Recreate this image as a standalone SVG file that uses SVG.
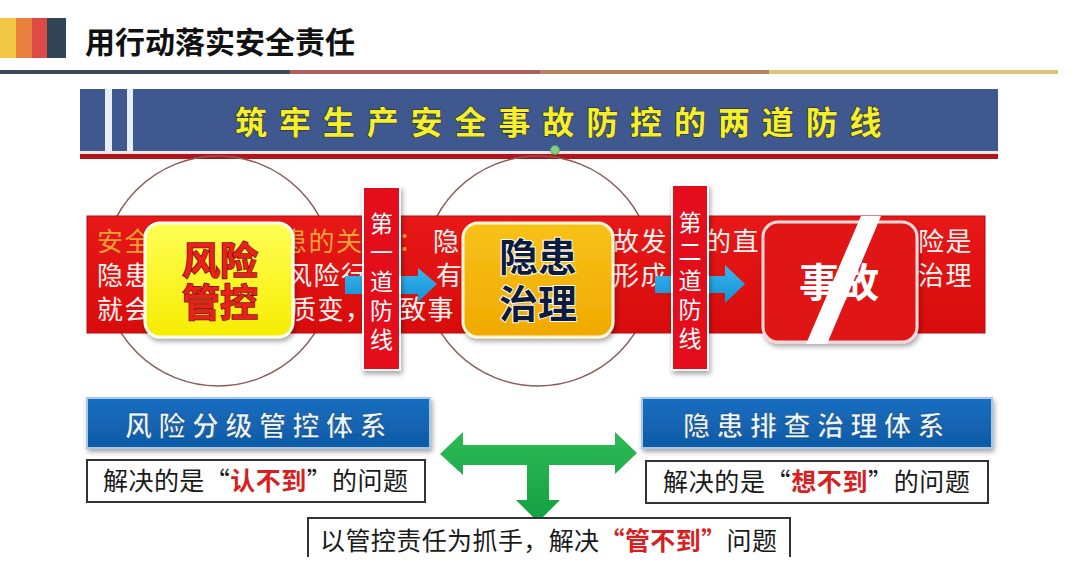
<svg xmlns="http://www.w3.org/2000/svg" width="1080" height="578" viewBox="0 0 1080 578">
<defs>
<style>
.cjk{font-family:"Noto Sans CJK SC","Noto Sans CJK TC",sans-serif}
.band{font-size:26px;fill:#FFF2EE;letter-spacing:1.5px}
.or{fill:#F3A238}
.vt{font-size:23px;fill:#FFFFFF;writing-mode:vertical-rl;letter-spacing:6px}
.vbox{fill:#E3101A;stroke:#FFFFFF;stroke-width:2}
.circ{fill:none;stroke:#8C5A5A;stroke-width:1.5}
.blue{fill:url(#gbl);stroke:#A9C8E6;stroke-width:2}
.btxt{font-size:27px;font-weight:bold;fill:#EAF7FF;letter-spacing:6.5px;stroke:#0B3F78;stroke-width:0.6}
.wbox{fill:#FFFFFF;stroke:#333333;stroke-width:2}
.ptxt{font-size:25px;fill:#1A1A1A}
.red{fill:#D81E1E;font-weight:bold}
.barrow{fill:url(#gba)}
</style>
<linearGradient id="gy" x1="0" y1="0" x2="0" y2="1"><stop offset="0" stop-color="#FFFF55"/><stop offset="1" stop-color="#F6EC00"/></linearGradient>
<linearGradient id="go" x1="0" y1="0" x2="0" y2="1"><stop offset="0" stop-color="#F8C21A"/><stop offset="1" stop-color="#F0A900"/></linearGradient>
<linearGradient id="gr" x1="0" y1="0" x2="0" y2="1"><stop offset="0" stop-color="#E81818"/><stop offset="1" stop-color="#D80C0C"/></linearGradient>
<linearGradient id="gbl" x1="0" y1="0" x2="0" y2="1"><stop offset="0" stop-color="#1A6EC0"/><stop offset="1" stop-color="#0E5AA6"/></linearGradient>
<linearGradient id="gba" x1="0" y1="0" x2="0" y2="1"><stop offset="0" stop-color="#3BB6EC"/><stop offset="1" stop-color="#1490D6"/></linearGradient>
<linearGradient id="gg" x1="0" y1="0" x2="0" y2="1"><stop offset="0" stop-color="#2DBA55"/><stop offset="1" stop-color="#14A043"/></linearGradient>
<filter id="sh" x="-15%" y="-15%" width="135%" height="135%"><feDropShadow dx="1.5" dy="3" stdDeviation="2.5" flood-color="#000" flood-opacity="0.35"/></filter>
</defs>

<rect width="1080" height="578" fill="#FFFFFF"/>

<g id="header">
  <rect x="0" y="18" width="16" height="40" fill="#F2C744"/>
  <rect x="16" y="18" width="16" height="40" fill="#E9803E"/>
  <rect x="32" y="18" width="15" height="40" fill="#DE4A46"/>
  <rect x="47" y="18" width="19" height="40" fill="#324457"/>
  <text x="85" y="53" class="cjk" font-size="30" font-weight="bold" fill="#111111">用行动落实安全责任</text>
  <rect x="0" y="70" width="290" height="4" fill="#3B4A56"/>
  <rect x="290" y="70" width="250" height="4" fill="#B2605B"/>
  <rect x="540" y="70" width="229" height="4" fill="#B5845F"/>
  <rect x="769" y="70" width="289" height="4" fill="#DCC47A"/>
</g>

<g id="banner">
  <rect x="80" y="89" width="918" height="62" fill="#3F5890"/>
  <rect x="105" y="89" width="7" height="62" fill="#E8EEF6"/>
  <rect x="127" y="89" width="6" height="62" fill="#E8EEF6"/>
  <rect x="80" y="151" width="918" height="3" fill="#F4E4E4"/>
  <rect x="80" y="154" width="918" height="5" fill="#B3141C"/>
  <text x="235" y="134" class="cjk" font-size="32" font-weight="bold" fill="#F6F02C" stroke="#2A2A1A" stroke-width="1.2" paint-order="stroke" letter-spacing="11.9">筑牢生产安全事故防控的两道防线</text>
  <circle cx="555" cy="150" r="4.5" fill="#86CF8A" stroke="#5A9A5A" stroke-width="1"/>
</g>

<g id="circles">
  <circle cx="218" cy="271" r="115" class="circ"/>
  <circle cx="538" cy="271" r="115" class="circ"/>
</g>

<g id="band">
  <rect x="87" y="216" width="898" height="117" fill="url(#gr)" stroke="#B80A0A" stroke-width="1"/>
  <g class="cjk band">
    <text x="97" y="251" class="or">安全</text>
    <text x="281" y="251" class="or">患的关</text>
    <text x="398" y="251" class="or">：</text>
    <text x="433" y="251">隐</text>
    <text x="613" y="251">故发</text>
    <text x="705" y="251">的直</text>
    <text x="918" y="251">险是</text>
    <text x="97" y="285">隐患</text>
    <text x="286" y="285">风险行</text>
    <text x="436" y="285">有</text>
    <text x="613" y="285">形成</text>
    <text x="918" y="285">治理</text>
    <text x="97" y="319">就会</text>
    <text x="290" y="319">质变，</text>
    <text x="400" y="319">致事</text>
  </g>
</g>

<g id="connectors">
  <polygon class="barrow" points="345,276 418,276 418,268 437,284 418,302 418,294 345,294"/>
  <polygon class="barrow" points="655,276 725,276 725,265 745,284 725,303 725,293 655,293"/>
  <path d="M440,454 L463,432 L463,445 L615,445 L615,432 L637,453 L615,474 L615,465 L549,465 L549,500 L560,500 L538,522 L516,500 L527,500 L527,465 L463,465 L463,475 Z" fill="url(#gg)"/>
</g>

<g id="node-risk">
  <rect x="145" y="223" width="148" height="114" rx="15" fill="url(#gy)" stroke="#FFFFF0" stroke-width="3" filter="url(#sh)"/>
  <text class="cjk" font-size="38" font-weight="bold" fill="#E8221A" stroke="#7E1010" stroke-width="1.6" paint-order="stroke" text-anchor="middle"><tspan x="220" y="274">风险</tspan><tspan x="220" y="316">管控</tspan></text>
</g>

<g id="node-hazard">
  <rect x="463" y="223" width="150" height="114" rx="15" fill="url(#go)" stroke="#FFF6D8" stroke-width="3" filter="url(#sh)"/>
  <text class="cjk" font-size="39" font-weight="bold" fill="#0E1B3C" stroke="#FFFFFF" stroke-width="2" paint-order="stroke" text-anchor="middle"><tspan x="538" y="271">隐患</tspan><tspan x="538" y="318">治理</tspan></text>
</g>

<g id="node-accident">
  <rect x="763" y="222" width="154" height="120" rx="15" fill="#E01414" stroke="#FBD8D8" stroke-width="3" filter="url(#sh)"/>
  <text x="839" y="297" class="cjk" font-size="40" font-weight="bold" fill="#FFFFFF" text-anchor="middle">事故</text>
  <polygon points="861,216 881,216 827,344 806,344" fill="#FFFFFF"/>
</g>

<g id="node-line1">
  <rect x="363" y="187" width="37" height="183" class="vbox" filter="url(#sh)"/>
  <text x="381.5" y="212" class="cjk vt">第一道防线</text>
</g>

<g id="node-line2">
  <rect x="672" y="185" width="36" height="185" class="vbox" filter="url(#sh)"/>
  <text x="690" y="211" class="cjk vt">第二道防线</text>
</g>

<g id="node-risk-system">
  <rect x="87" y="398" width="343" height="50" class="blue" filter="url(#sh)"/>
  <text x="125" y="436" class="cjk btxt">风险分级管控体系</text>
</g>

<g id="node-risk-note">
  <rect x="87" y="460" width="338" height="42" class="wbox"/>
  <text x="103" y="490" class="cjk ptxt" textLength="305" lengthAdjust="spacing">解决的是“<tspan class="red">认不到</tspan>”的问题</text>
</g>

<g id="node-hazard-system">
  <rect x="642" y="398" width="350" height="50" class="blue" filter="url(#sh)"/>
  <text x="683" y="436" class="cjk btxt">隐患排查治理体系</text>
</g>

<g id="node-hazard-note">
  <rect x="646" y="461" width="342" height="42" class="wbox"/>
  <text x="663" y="491" class="cjk ptxt" textLength="307" lengthAdjust="spacing">解决的是“<tspan class="red">想不到</tspan>”的问题</text>
</g>

<g id="node-responsibility">
  <path d="M308,557 V518 H790 V557" fill="#FFFFFF" stroke="#333333" stroke-width="2"/>
  <text x="320" y="550" class="cjk ptxt" textLength="457" lengthAdjust="spacing">以管控责任为抓手，解决<tspan class="red">“管不到”</tspan>问题</text>
</g>
</svg>
